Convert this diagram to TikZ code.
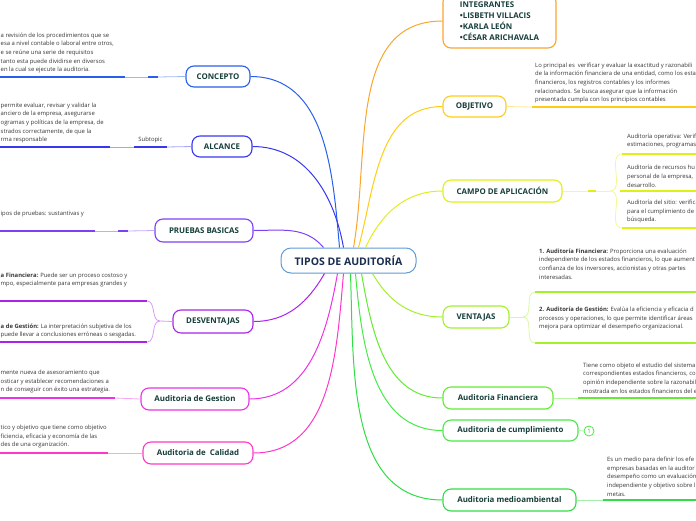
\documentclass[tikz,border=0pt]{standalone}
\usepackage{fontspec}
\setmainfont{Open Sans}
\usepackage{tikz}
\usetikzlibrary{calc}
\definecolor{rootB}{RGB}{95,155,215}
\definecolor{rootT}{RGB}{25,45,80}
\definecolor{titleT}{RGB}{22,62,58}
\definecolor{bodyT}{RGB}{55,55,55}
\definecolor{conceptoC}{RGB}{40,95,235}
\definecolor{alcanceC}{RGB}{55,55,240}
\definecolor{pruebasC}{RGB}{125,65,245}
\definecolor{desvC}{RGB}{170,35,235}
\definecolor{gestionC}{RGB}{235,50,230}
\definecolor{calidadC}{RGB}{255,55,200}
\definecolor{integC}{RGB}{250,165,45}
\definecolor{objC}{RGB}{255,205,20}
\definecolor{campoC}{RGB}{225,240,20}
\definecolor{ventC}{RGB}{165,240,45}
\definecolor{finC}{RGB}{100,235,50}
\definecolor{cumpC}{RGB}{70,235,70}
\definecolor{medioC}{RGB}{50,220,70}

\begin{document}
\begin{tikzpicture}[x=1pt, y=1pt,
  topic/.style={draw=#1, rounded corners=8pt, line width=1.1pt, fill=white,
                text=titleT, inner sep=0pt, font=\fontsize{7.9}{9}\selectfont\bfseries},
  body/.style={text=bodyT, align=left, inner sep=0pt, anchor=south west,
               font=\fontsize{5.9}{8.7}\selectfont},
  wire/.style={draw=#1, line width=1pt},
  link/.style={draw=#1!45, line width=0.8pt},
  uline/.style={draw=#1, line width=1.6pt}]
  \useasboundingbox (0,0) rectangle (696,-520);

  \node[draw=rootB, fill=white, rounded corners=10pt, line width=1pt, text=rootT,
        minimum width=135, minimum height=25, font=\fontsize{10.5}{12}\selectfont\bfseries]
        (root) at (348.5,-260.5) {TIPOS DE AUDITORÍA};

  % left side
  \node[topic=conceptoC, minimum width=64, minimum height=21] (concepto) at (218,-76.5) {CONCEPTO};
  \node[topic=alcanceC, minimum width=60, minimum height=21] (alcance) at (222,-146.5) {ALCANCE};
  \node[topic=pruebasC, minimum width=98, minimum height=23] (pruebas) at (204,-230.5) {PRUEBAS BASICAS};
  \node[topic=desvC, minimum width=80, minimum height=23] (desventajas) at (213,-321.5) {DESVENTAJAS};
  \node[topic=gestionC, minimum width=108, minimum height=22] (gestion) at (195,-399) {Auditoria de Gestion};
  \node[topic=calidadC, minimum width=110, minimum height=22] (calidad) at (198,-453) {Auditoria de\ \ Calidad};

  % right side
  \node[topic=integC, minimum width=113, minimum height=54, align=left,
        font=\fontsize{7.9}{11}\selectfont\bfseries] (integrantes) at (499.5,-21)
        {INTEGRANTES\\ \textbullet LISBETH VILLACIS\\ \textbullet KARLA LEÓN\\ \textbullet CÉSAR ARICHAVALA};
  \node[topic=objC, minimum width=63, minimum height=21] (objetivo) at (474.5,-106.5) {OBJETIVO};
  \node[topic=campoC, minimum width=119, minimum height=22] (campo) at (502.5,-191) {CAMPO DE APLICACIÓN};
  \node[topic=ventC, minimum width=66, minimum height=22] (ventajas) at (476,-317) {VENTAJAS};
  \node[topic=finC, minimum width=110, minimum height=22] (financiera) at (498,-398) {Auditoria Financiera};
  \node[topic=cumpC, minimum width=135, minimum height=21] (cumplimiento) at (510.5,-430.5) {Auditoria de cumplimiento};
  \node[topic=medioC, minimum width=133, minimum height=22] (medio) at (509.5,-500) {Auditoria medioambiental};
  \node[circle, draw=cumpC, line width=0.8pt, minimum size=10, inner sep=0pt, text=cumpC!80!black,
        font=\fontsize{6}{6}\selectfont] (cumpnum) at (589,-431) {1};

  \draw[wire=conceptoC] ([xshift=-9pt]root.north) to[out=95,in=0] (concepto.east);
  \draw[wire=alcanceC] ([xshift=-5pt]root.north) to[out=100,in=0] (alcance.east);
  \draw[wire=pruebasC] ([xshift=-25pt]root.north) to[out=130,in=0] (pruebas.east);
  \draw[wire=desvC] ([xshift=-24pt]root.south) to[out=-120,in=0] (desventajas.east);
  \draw[wire=gestionC] ([xshift=-11pt]root.south) to[out=-100,in=0] (gestion.east);
  \draw[wire=calidadC] ([xshift=-5pt]root.south) to[out=-95,in=0] (calidad.east);
  \draw[wire=integC] ([xshift=5pt]root.north) to[out=80,in=180] (integrantes.west);
  \draw[wire=objC] ([xshift=10pt]root.north) to[out=75,in=180] (objetivo.west);
  \draw[wire=campoC] ([xshift=17pt]root.north) to[out=65,in=180] (campo.west);
  \draw[wire=ventC] ([xshift=24pt]root.south) to[out=-60,in=180] (ventajas.west);
  \draw[wire=finC] ([xshift=13pt]root.south) to[out=-80,in=180] (financiera.west);
  \draw[wire=cumpC] ([xshift=7pt]root.south) to[out=-85,in=180] (cumplimiento.west);
  \draw[wire=medioC] ([xshift=2pt]root.south) to[out=-88,in=180] (medio.west);

  % CONCEPTO
  \node[body] (conceptotxt) at (0.5,-73.5) {a revisión de los procedimientos que se\\
    esa a nivel contable o laboral entre otros,\\ e se reúne una serie de requisitos\\
    tanto esta puede dividirse en diversos\\ en la cual se ejecute la auditoria.};
  \coordinate (conceptosubR) at (158,-77);
  \coordinate (conceptosubL) at (148,-77);
  \coordinate (conceptoend) at (125,-77);
  \draw[link=conceptoC] (concepto.west) -- (conceptosubR);
  \draw[uline=conceptoC] (conceptosubR) -- (conceptosubL);
  \draw[link=conceptoC] (conceptosubL) -- (conceptoend);
  \draw[uline=conceptoC] (conceptoend) -- (conceptoend -| 0,0);

  % ALCANCE
  \node[body] (alcancetxt) at (0.5,-143.5) {permite evaluar, revisar y validar la\\
    anciero de la empresa, asegurarse\\ ogramas y políticas de la empresa, de\\
    strados correctamente, de que la\\ rma responsable};
  \node[body, anchor=south] (alcancesub) at (150.5,-143.5) {Subtopic};
  \coordinate (alcancesubR) at (167,-147);
  \coordinate (alcancesubL) at (134,-147);
  \coordinate (alcanceend) at (110,-147);
  \draw[link=alcanceC] (alcance.west) -- (alcancesubR);
  \draw[uline=alcanceC] (alcancesubR) -- (alcancesubL);
  \draw[link=alcanceC] (alcancesubL) -- (alcanceend);
  \draw[uline=alcanceC] (alcanceend) -- (alcanceend -| 0,0);

  % PRUEBAS BASICAS
  \node[body] (pruebastxt) at (0.5,-217.5) {ipos de pruebas: sustantivas y};
  \coordinate (pruebassubR) at (128,-231);
  \coordinate (pruebassubL) at (118,-231);
  \coordinate (pruebasend) at (95,-231);
  \draw[link=pruebasC] (pruebas.west) -- (pruebassubR);
  \draw[uline=pruebasC] (pruebassubR) -- (pruebassubL);
  \draw[link=pruebasC] (pruebassubL) -- (pruebasend);
  \draw[uline=pruebasC] (pruebasend) -- (pruebasend -| 0,0);

  % DESVENTAJAS
  \node[body] (desvtxtA) at (0.5,-287.5) {\textbf{a Financiera:} Puede ser un proceso costoso y\\
    mpo, especialmente para empresas grandes y};
  \node[body] (desvtxtB) at (0.5,-338.5) {\textbf{a de Gestión:} La interpretación subjetiva de los\\
    puede llevar a conclusiones erróneas o sesgadas.};
  \coordinate (desvfork) at (160,-321);
  \coordinate (desvA) at (147,-301);
  \coordinate (desvB) at (147,-342);
  \draw[link=desvC] (desventajas.west) -- (desvfork);
  \draw[link=desvC] (desvfork) to[out=180,in=0] (desvA);
  \draw[link=desvC] (desvfork) to[out=180,in=0] (desvB);
  \draw[uline=desvC] (desvA) -- (desvA -| 0,0);
  \draw[uline=desvC] (desvB) -- (desvB -| 0,0);

  % Auditoria de Gestion
  \node[body] (gestiontxt) at (0.5,-393.5) {mente nueva de asesoramiento que\\
    osticar y establecer recomendaciones a\\ n de conseguir con éxito una estrategia.};
  \coordinate (gestionend) at (115,-398);
  \draw[link=gestionC] (gestion.west) -- (gestionend);
  \draw[uline=gestionC] (gestionend) -- (gestionend -| 0,0);

  % Auditoria de Calidad
  \node[body] (calidadtxt) at (0.5,-448.5) {tico y objetivo que tiene como objetivo\\
    ficiencia, eficacia y economía de las\\ des de una organización.};
  \coordinate (calidadend) at (108,-453);
  \draw[link=calidadC] (calidad.west) -- (calidadend);
  \draw[uline=calidadC] (calidadend) -- (calidadend -| 0,0);

  % OBJETIVO
  \node[body] (objetivotxt) at (535,-103.5) {Lo principal es\ \ verificar y evaluar la exactitud y razonabili\\
    de la información financiera de una entidad, como los esta\\
    financieros, los registros contables y los informes\\
    relacionados. Se busca asegurar que la información\\
    presentada cumpla con los principios contables};
  \coordinate (objetivoend) at (532,-107);
  \draw[link=objC] (objetivo.east) -- (objetivoend);
  \draw[uline=objC] (objetivoend) -- (objetivoend -| 696,0);

  % CAMPO DE APLICACION
  \node[body] (campotxtA) at (627,-148.5) {Auditoría operativa: Verif\\ estimaciones, programas};
  \node[body] (campotxtB) at (627,-187.5) {Auditoría de recursos hu\\ personal de la empresa,\\ desarrollo.};
  \node[body] (campotxtC) at (627,-223.5) {Auditoría del sitio: verifica\\ para el cumplimiento de\\ búsqueda.};
  \coordinate (camposubL) at (588,-191);
  \coordinate (camposubR) at (596,-191);
  \coordinate (campofork) at (610,-191);
  \coordinate (campoA) at (622,-154);
  \coordinate (campoC) at (622,-228);
  \draw[link=campoC] (campo.east) -- (camposubL);
  \draw[uline=campoC] (camposubL) -- (camposubR);
  \draw[link=campoC] (camposubR) -- (campofork);
  \draw[link=campoC] (campofork) to[out=0,in=180] (campoA);
  \draw[link=campoC] (campofork) to[out=0,in=180] (campoC);
  \draw[uline=campoC] (campoA) -- (campoA -| 696,0);
  \draw[uline=campoC] ([xshift=10pt]campofork) -- (campofork -| 696,0);
  \draw[uline=campoC] (campoC) -- (campoC -| 696,0);

  % VENTAJAS
  \node[body] (venttxtA) at (539,-279.5) {\textbf{1. Auditoría Financiera:} Proporciona una evaluación\\
    independiente de los estados financieros, lo que aument\\
    confianza de los inversores, accionistas y otras partes\\ interesadas.};
  \node[body] (venttxtB) at (539,-330.5) {\textbf{2. Auditoría de Gestión:} Evalúa la eficiencia y eficacia d\\
    procesos y operaciones, lo que permite identificar áreas\\
    mejora para optimizar el desempeño organizacional.};
  \coordinate (ventfork) at (523,-317);
  \coordinate (ventA) at (535,-292);
  \coordinate (ventB) at (535,-343);
  \draw[link=ventC] (ventajas.east) -- (ventfork);
  \draw[link=ventC] (ventfork) to[out=0,in=180] (ventA);
  \draw[link=ventC] (ventfork) to[out=0,in=180] (ventB);
  \draw[uline=ventC] (ventA) -- (ventA -| 696,0);
  \draw[uline=ventC] (ventB) -- (ventB -| 696,0);

  % Auditoria Financiera
  \node[body] (fintxt) at (583,-393.5) {Tiene como objeto el estudio del sistema\\
    correspondientes estados financieros, co\\ opinión independiente sobre la razonabil\\
    mostrada en los estados financieros del e};
  \coordinate (finend) at (578,-398);
  \draw[link=finC] (financiera.east) -- (finend);
  \draw[uline=finC] (finend) -- (finend -| 696,0);

  % Auditoria de cumplimiento
  \draw[link=cumpC] (cumplimiento.east) -- (cumpnum.west);

  % Auditoria medioambiental
  \node[body] (mediotxt) at (607,-496.5) {Es un medio para definir los efe\\
    empresas basadas en la auditor\\ desempeño como un evaluación\\
    independiente y objetivo sobre l\\ metas.};
  \coordinate (medioend) at (603,-500);
  \draw[link=medioC] (medio.east) -- (medioend);
  \draw[uline=medioC] (medioend) -- (medioend -| 696,0);
\end{tikzpicture}
\end{document}
